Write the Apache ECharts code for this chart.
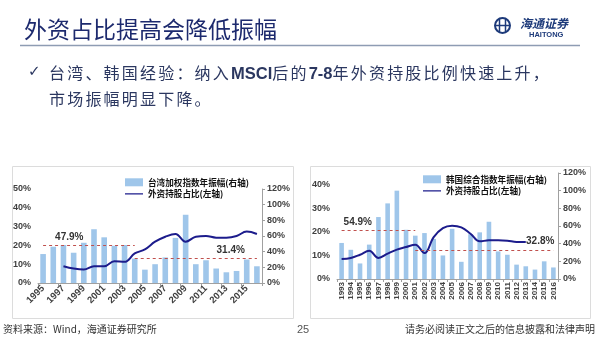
<!DOCTYPE html>
<html><head><meta charset="utf-8">
<script src="https://cdn.jsdelivr.net/npm/echarts@6/dist/echarts.min.js"></script>
<style>
html,body{margin:0;padding:0;background:#fff}
#wrap{position:relative;width:600px;height:338px;overflow:hidden}
#c{position:absolute;left:0;top:0;width:600px;height:338px}
.t{position:absolute;white-space:nowrap;font-family:"Noto Sans CJK SC",sans-serif}
#title{left:24px;top:14px;font-size:23px;line-height:28px;color:#1d2a6e}
#check{left:28px;top:59px;font-size:15px;line-height:25px;color:#2b3760;font-family:"DejaVu Sans",sans-serif}
#bullet{left:49px;top:59.5px;font-size:16px;line-height:25px;color:#2b3760;letter-spacing:2.2px}
#bullet b{font-family:"Liberation Sans",Arial,sans-serif;font-weight:bold;letter-spacing:0;font-size:16.5px}
.foot{top:321px;font-size:10px;line-height:16px;color:#333}
#logo1{left:520px;top:15px;font-size:12px;line-height:15px;font-weight:bold;color:#1d3a7a;font-style:italic}
#logo2{left:529px;top:30px;font-size:7.5px;line-height:9px;font-weight:bold;color:#1d3a7a;font-family:"Liberation Sans",Arial,sans-serif}
</style>
</head><body><div id="wrap"><div id="c"></div>
<div class="t" id="title">外资占比提高会降低振幅</div>
<div class="t" id="check">✓</div>
<div class="t" id="bullet">台湾、韩国经验：纳入<b>MSCI</b>后的<b>7-8</b>年外资持股比例快速上升，<br>市场振幅明显下降。</div>
<div class="t" id="logo1">海通证券</div>
<div class="t" id="logo2">HAITONG</div>
<div class="t foot" style="left:3px">资料来源：Wind，海通证券研究所</div>
<div class="t foot" style="left:297px;font-size:11px;color:#555;font-family:'Liberation Sans',Arial,sans-serif">25</div>
<div class="t foot" style="right:5px">请务必阅读正文之后的信息披露和法律声明</div>
</div>
<script>
// ---- data ----
const twYears = ['1995','1996','1997','1998','1999','2000','2001','2002','2003','2004','2005','2006','2007','2008','2009','2010','2011','2012','2013','2014','2015','2016'];
const twAmp = [15.4,19.3,20.2,16.1,21.4,28.6,24.3,19.8,20.2,13,7.1,10,13.6,24,36.3,10,12.1,7.7,5.7,6.4,12.5,8.9];
const twForeign = ['-','-',21.4,18.4,17.1,21.4,21.4,27.9,27,37.7,42.9,52.7,59.1,62.6,52.7,59.1,60,57.9,57.9,60,65.6,62.6];
const twRefHigh = 47.9, twRefLow = 31.4;

const krYears = ['1993','1994','1995','1996','1997','1998','1999','2000','2001','2002','2003','2004','2005','2006','2007','2008','2009','2010','2011','2012','2013','2014','2015','2016'];
const krAmp = [15.3,12.4,6.6,14.6,26.3,32.1,37.5,20.9,18.4,19.5,17,10,21.3,7.3,19,19.8,24.3,11.7,10.3,6.1,5.4,4,7.5,4.9];
const krForeign = [22.6,23.8,27.5,32,23.8,28.7,33.2,36.2,38.9,29.4,47.5,57.7,60.4,58.5,51.3,42.6,43.8,43.8,43.4,41.9,41.9,'-','-','-'];
const krRefHigh = 54.9, krRefLow = 32.8;

const twBarName = '台湾加权指数年振幅(右轴)';
const krBarName = '韩国综合指数年振幅(右轴)';
const lineName = '外资持股占比(左轴)';

// ---- styles ----
const BAR = '#9fc6ea', LINE = '#1c1c8c', REF = '#c0504d', AX = '#a0a0a0';
const labFont = {fontFamily:'Liberation Sans, Arial, sans-serif', fontWeight:'bold', fontSize:9, color:'#404040'};
const pct = v => v + '%';
const lineIcon = 'path://M0,0L0.01,0L0,0.01Z M0,3.2L20,3.2L20,4.8L0,4.8Z M20,8L19.99,8L20,7.99Z';

function leftY(grid, max, interval){
  return {type:'value', gridIndex:grid, min:0, max:max, interval:interval,
    axisLine:{show:false}, axisTick:{show:false}, splitLine:{show:false},
    axisLabel:Object.assign({formatter:pct, margin:7, showMaxLabel: max % interval === 0}, labFont)};
}
function rightY(grid){
  return {type:'value', gridIndex:grid, position:'right', min:0, max:120, interval:20,
    axisLine:{show:true, lineStyle:{color:AX}}, axisTick:{show:true, length:3, lineStyle:{color:AX}}, splitLine:{show:false},
    axisLabel:Object.assign({formatter:pct, margin:5}, labFont)};
}
function refLine(startCat, endCat, val, pos, dist){
  return [{coord:[startCat, val], label:{show:true, position:pos, formatter: val + '%',
      fontFamily:'Liberation Sans, Arial, sans-serif', fontWeight:'bold', fontSize:10, color:'#333', distance:dist}},
    {coord:[endCat, val]}];
}
const legendText = {fontFamily:'Noto Sans CJK SC', fontWeight:'bold', fontSize:8.6, color:'#111'};

const chart = echarts.init(document.getElementById('c'), null, {renderer:'canvas'});
const option = {
  animation:false,
  grid:[
    {left:38, top:189, width:224, height:94},
    {left:337, top:173, width:221, height:106}
  ],
  xAxis:[
    {type:'category', gridIndex:0, data:twYears, boundaryGap:true,
     axisLine:{lineStyle:{color:AX}}, axisTick:{show:true, length:3, lineStyle:{color:AX}},
     axisLabel:Object.assign({rotate:45, interval:1, margin:4}, labFont, {fontSize:9.5})},
    {type:'category', gridIndex:1, data:krYears, boundaryGap:true,
     axisLine:{lineStyle:{color:AX}}, axisTick:{show:true, length:3, lineStyle:{color:AX}},
     axisLabel:Object.assign({rotate:90, interval:0, margin:3}, labFont, {fontSize:8})}
  ],
  yAxis:[ leftY(0, 50, 10), rightY(0), leftY(1, 45, 10), rightY(1) ],
  legend:[
    {left:125, top:178, orient:'vertical', itemGap:3, itemWidth:18, itemHeight:8, padding:0, textStyle:legendText,
     data:[{name:twBarName, icon:'rect'}, {name:lineName, icon:lineIcon}]},
    {left:423, top:175, orient:'vertical', itemGap:3, itemWidth:18, itemHeight:8, padding:0, textStyle:legendText,
     data:[{name:krBarName, icon:'rect'}, {name:lineName, icon:lineIcon}]}
  ],
  series:[
    {name:twBarName, type:'bar', xAxisIndex:0, yAxisIndex:0, data:twAmp, barWidth:'55%', itemStyle:{color:BAR}},
    {name:lineName, type:'line', xAxisIndex:0, yAxisIndex:1, data:twForeign, smooth:0.4, symbol:'none',
     lineStyle:{color:LINE, width:2}, itemStyle:{color:LINE},
     markLine:{silent:true, symbol:'none', lineStyle:{color:REF, type:[3,3], width:1},
       data:[ refLine('1995','2004', twRefHigh, 'insideStartTop', [12,3]), refLine('2004','2016', twRefLow, 'insideEndTop', [12,3]) ]}},
    {name:krBarName, type:'bar', xAxisIndex:1, yAxisIndex:2, data:krAmp, barWidth:'50%', itemStyle:{color:BAR}},
    {name:lineName, type:'line', xAxisIndex:1, yAxisIndex:3, data:krForeign, smooth:0.4, symbol:'none',
     lineStyle:{color:LINE, width:2}, itemStyle:{color:LINE},
     markLine:{silent:true, symbol:'none', lineStyle:{color:REF, type:[3,3], width:1},
       data:[ refLine('1993','2001', krRefHigh, 'insideStartTop', [2,3]), refLine('2001','2016', krRefLow, 'insideEndTop', [-1,4]) ]}}
  ],
  graphic:[
    {type:'rect', z:-1, shape:{x:12.5, y:166.5, width:281, height:152}, style:{fill:'none', stroke:'#dcdcdc', lineWidth:1}},
    {type:'rect', z:-1, shape:{x:310.5, y:166.5, width:280, height:152}, style:{fill:'none', stroke:'#dcdcdc', lineWidth:1}},
    {type:'line', shape:{x1:20, y1:45.5, x2:580, y2:45.5}, style:{stroke:'#8e9cb3', lineWidth:1.5}},
    {type:'circle', shape:{cx:502.5, cy:25.5, r:7.5}, style:{fill:'none', stroke:'#1d3a7a', lineWidth:2}},
    {type:'line', shape:{x1:495, y1:25.5, x2:510, y2:25.5}, style:{stroke:'#1d3a7a', lineWidth:1.5}},
    {type:'line', shape:{x1:499.5, y1:19, x2:499.5, y2:32}, style:{stroke:'#1d3a7a', lineWidth:1.5}},
    {type:'line', shape:{x1:505.5, y1:19, x2:505.5, y2:32}, style:{stroke:'#1d3a7a', lineWidth:1.5}}
  ]
};
chart.setOption(option);
</script></body></html>
